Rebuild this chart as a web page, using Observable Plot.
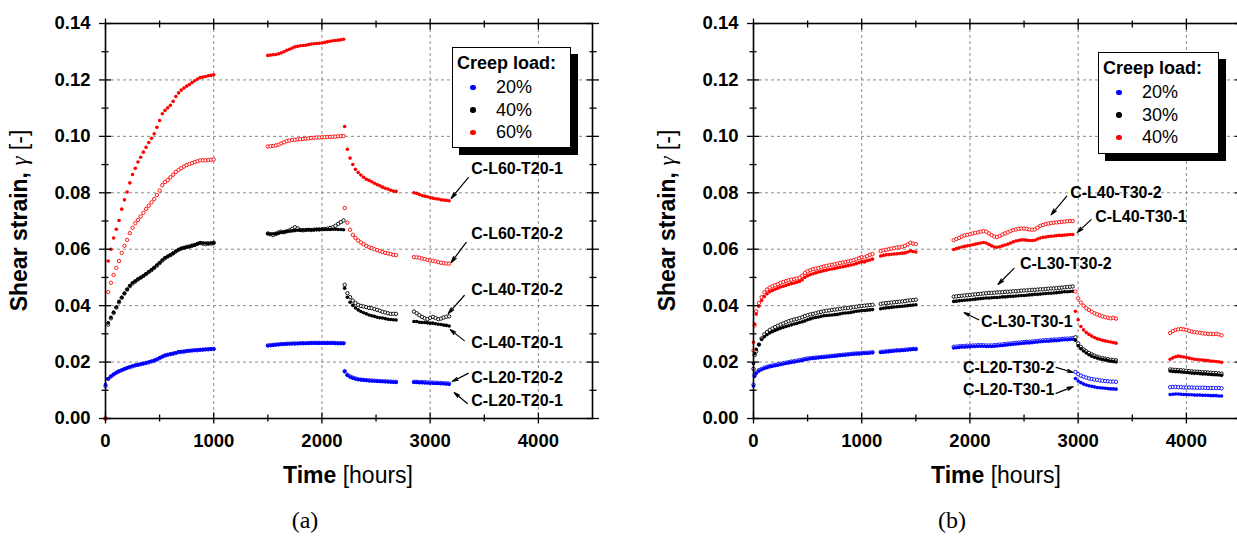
<!DOCTYPE html>
<html>
<head>
<meta charset="utf-8">
<script src="https://cdn.jsdelivr.net/npm/d3@7"></script>
<script src="https://cdn.jsdelivr.net/npm/@observablehq/plot@0.6"></script>
<style>
  html, body { margin: 0; padding: 0; background: #fff; overflow: hidden; }
  #page { position: relative; width: 1237px; height: 536px; overflow: hidden; background: #fff; }
  .panel { position: absolute; top: 0; width: 618px; height: 536px; }
  .legend { position: absolute; box-sizing: border-box; background: #fff; border: 1.3px solid #000;
            box-shadow: 7px 7px 0 #000; font-family: "Liberation Sans", Arial, sans-serif; color: #000; }
  .legend .ttl { position: absolute; left: 4px; top: 5px; font-weight: bold; font-size: 18px; line-height: 20px; white-space: nowrap; }
  .legend .itm { position: absolute; left: 43px; font-size: 18px; line-height: 20px; white-space: nowrap; }
  .legend .dot { position: absolute; left: 17px; width: 5.5px; height: 5.5px; border-radius: 50%; }
  .caption { position: absolute; width: 100px; text-align: center; font-family: "Liberation Serif", "Times New Roman", serif;
             font-size: 24px; line-height: 28px; color: #000; }
  #warn { position: absolute; left: 0; top: 0; color: red; font: 10px monospace; }
</style>
</head>
<body>
<div id="page">
  <div class="panel" id="pa" style="left:0px"></div>
  <div class="panel" id="pb" style="left:648px"></div>
  <div id="warn"></div>
</div>
<script>
// ---------------- axis ticks ----------------
const xMajor = [0, 1000, 2000, 3000, 4000];
const xMinor = [500, 1500, 2500, 3500];
const yMajor = [0, 0.02, 0.04, 0.06, 0.08, 0.10, 0.12, 0.14];
const yMinor = [0.01, 0.03, 0.05, 0.07, 0.09, 0.11, 0.13];

// ---------------- panel (a): measurement times [hours] ----------------
const tA1 = [0,25,50,75,100,125,150,175,200,225,250,275,300,325,350,375,400,425,450,475,500,525,550,575,600,625,650,675,700,725,750,775,800,825,850,875,900,925,950,975,1000];
const tA2 = [1500,1525,1550,1575,1600,1625,1650,1675,1700,1725,1750,1775,1800,1825,1850,1875,1900,1925,1950,1975,2000,2025,2050,2075,2100,2125,2150,2175,2200];
const tA3 = [2210,2235,2260,2285,2310,2335,2360,2385,2410,2435,2460,2485,2510,2535,2560,2585,2610,2635,2660,2685];
const tA4 = [2850,2875,2900,2925,2950,2975,3000,3025,3050,3075,3100,3125,3150,3175];

// panel (a) shear strain series
const a_L60_T20_1 = [
  0,0.0558,0.0600,0.0640,0.0671,0.0702,0.0742,0.0775,0.0803,0.0835, 0.0865,0.0887,0.0909,0.0926,0.0944,0.0961,0.0978,0.0993,0.1009,0.1032,
  0.1056,0.1080,0.1092,0.1101,0.1110,0.1124,0.1141,0.1154,0.1164,0.1171, 0.1178,0.1184,0.1191,0.1197,0.1203,0.1208,0.1210,0.1212,0.1215,0.1216, 0.1218,
  0.1287,0.1288,0.1289,0.1290,0.1293,0.1296,0.1300,0.1305,0.1309,0.1313, 0.1317,0.1319,0.1321,0.1322,0.1323,0.1325,0.1327,0.1328,0.1329,0.1330,
  0.1331,0.1333,0.1335,0.1337,0.1339,0.1340,0.1341,0.1342,0.1344,
  0.1035,0.0954,0.0923,0.0900,0.0883,0.0872,0.0863,0.0855,0.0848,0.0844, 0.0839,0.0834,0.0829,0.0825,0.0820,0.0816,0.0813,0.0809,0.0806,0.0805,
  0.0800,0.0798,0.0794,0.0790,0.0788,0.0786,0.0783,0.0781,0.0779,0.0778, 0.0775,0.0774,0.0773,0.0772
];
const a_L60_T20_2 = [
  0,0.0448,0.0481,0.0509,0.0534,0.0558,0.0587,0.0612,0.0633,0.0657, 0.0676,0.0692,0.0704,0.0716,0.0729,0.0743,0.0754,0.0766,0.0778,0.0792,
  0.0808,0.0827,0.0838,0.0845,0.0855,0.0864,0.0874,0.0881,0.0887,0.0893, 0.0898,0.0902,0.0905,0.0909,0.0912,0.0915,0.0915,0.0915,0.0916,0.0917, 0.0918,
  0.0964,0.0965,0.0966,0.0968,0.0971,0.0975,0.0979,0.0983,0.0985,0.0987, 0.0988,0.0989,0.0990,0.0991,0.0992,0.0993,0.0994,0.0995,0.0996,0.0996,
  0.0997,0.0997,0.0998,0.0998,0.0999,0.0999,0.1000,0.1001,0.1001,
  0.0746,0.0694,0.0669,0.0651,0.0640,0.0631,0.0624,0.0618,0.0612,0.0607, 0.0604,0.0600,0.0597,0.0593,0.0590,0.0587,0.0585,0.0583,0.0580,0.0579,
  0.0572,0.0571,0.0570,0.0567,0.0565,0.0562,0.0560,0.0559,0.0557,0.0554, 0.0552,0.0551,0.0549,0.0549
];
const a_L40_T20_1 = [
  0,0.0339,0.0359,0.0377,0.0395,0.0415,0.0430,0.0444,0.0458,0.0471, 0.0481,0.0487,0.0494,0.0500,0.0506,0.0513,0.0520,0.0527,0.0535,0.0544,
  0.0552,0.0562,0.0570,0.0575,0.0580,0.0586,0.0593,0.0599,0.0603,0.0605, 0.0607,0.0609,0.0612,0.0616,0.0619,0.0623,0.0622,0.0622,0.0619,0.0622, 0.0622,
  0.0655,0.0654,0.0655,0.0656,0.0657,0.0659,0.0661,0.0663,0.0664,0.0665, 0.0666,0.0667,0.0667,0.0668,0.0668,0.0669,0.0669,0.0669,0.0670,0.0670,
  0.0670,0.0670,0.0670,0.0670,0.0671,0.0671,0.0670,0.0670,0.0669,
  0.0462,0.0430,0.0412,0.0401,0.0392,0.0385,0.0379,0.0375,0.0371,0.0367, 0.0364,0.0362,0.0359,0.0357,0.0356,0.0354,0.0352,0.0351,0.0350,0.0349,
  0.0344,0.0344,0.0341,0.0340,0.0340,0.0339,0.0338,0.0338,0.0336,0.0334, 0.0333,0.0331,0.0330,0.0328
];
const a_L40_T20_2 = [
  0,0.0333,0.0355,0.0374,0.0393,0.0412,0.0428,0.0443,0.0457,0.0469, 0.0479,0.0486,0.0493,0.0499,0.0505,0.0512,0.0519,0.0526,0.0534,0.0542,
  0.0551,0.0560,0.0568,0.0574,0.0579,0.0585,0.0592,0.0598,0.0602,0.0605, 0.0608,0.0610,0.0613,0.0615,0.0619,0.0622,0.0620,0.0618,0.0621,0.0620, 0.0623,
  0.0656,0.0653,0.0650,0.0654,0.0660,0.0662,0.0660,0.0664,0.0667,0.0672, 0.0678,0.0674,0.0668,0.0667,0.0668,0.0669,0.0668,0.0669,0.0670,0.0670,
  0.0671,0.0672,0.0673,0.0675,0.0678,0.0683,0.0690,0.0696,0.0702,
  0.0474,0.0444,0.0430,0.0418,0.0409,0.0403,0.0399,0.0397,0.0395,0.0392, 0.0391,0.0388,0.0385,0.0382,0.0378,0.0376,0.0373,0.0371,0.0371,0.0371,
  0.0379,0.0373,0.0366,0.0360,0.0355,0.0352,0.0357,0.0360,0.0356,0.0352, 0.0354,0.0358,0.0361,0.0362
];
const a_L20_T20_1 = [
  0.0120,0.0142,0.0150,0.0157,0.0163,0.0168,0.0172,0.0176,0.0180,0.0183, 0.0186,0.0189,0.0191,0.0193,0.0195,0.0197,0.0200,0.0203,0.0206,0.0210,
  0.0215,0.0220,0.0224,0.0226,0.0228,0.0230,0.0233,0.0236,0.0237,0.0238, 0.0239,0.0240,0.0241,0.0242,0.0243,0.0244,0.0244,0.0245,0.0246,0.0246, 0.0247,
  0.0258,0.0259,0.0260,0.0261,0.0262,0.0263,0.0264,0.0264,0.0265,0.0265, 0.0265,0.0266,0.0266,0.0266,0.0266,0.0267,0.0267,0.0267,0.0267,0.0267,
  0.0267,0.0267,0.0267,0.0267,0.0267,0.0267,0.0266,0.0266,0.0266,
  0.0166,0.0153,0.0147,0.0143,0.0140,0.0138,0.0137,0.0136,0.0135,0.0134, 0.0133,0.0133,0.0132,0.0131,0.0131,0.0130,0.0130,0.0129,0.0129,0.0128,
  0.0128,0.0128,0.0127,0.0127,0.0126,0.0126,0.0125,0.0125,0.0124,0.0124, 0.0123,0.0123,0.0122,0.0121
];
const a_L20_T20_2 = [
  0.0115,0.0140,0.0149,0.0156,0.0162,0.0167,0.0171,0.0175,0.0179,0.0182, 0.0185,0.0188,0.0190,0.0192,0.0194,0.0197,0.0199,0.0202,0.0205,0.0209,
  0.0214,0.0219,0.0223,0.0226,0.0228,0.0230,0.0232,0.0235,0.0236,0.0237, 0.0239,0.0240,0.0241,0.0242,0.0242,0.0243,0.0244,0.0245,0.0245,0.0246, 0.0246,
  0.0259,0.0260,0.0261,0.0262,0.0263,0.0264,0.0264,0.0265,0.0265,0.0266, 0.0266,0.0266,0.0267,0.0267,0.0267,0.0267,0.0268,0.0268,0.0268,0.0268,
  0.0268,0.0268,0.0268,0.0268,0.0268,0.0267,0.0267,0.0267,0.0267,
  0.0168,0.0155,0.0149,0.0145,0.0142,0.0139,0.0138,0.0137,0.0136,0.0135, 0.0135,0.0134,0.0133,0.0133,0.0132,0.0132,0.0131,0.0131,0.0130,0.0130,
  0.0130,0.0130,0.0129,0.0129,0.0129,0.0128,0.0128,0.0127,0.0127,0.0126, 0.0126,0.0125,0.0125,0.0124
];

// ---------------- panel (b): measurement times [hours] ----------------
const tB1 = [0,10,25,50,75,100,125,150,175,200,225,250,275,300,325,350,375,400,425,450,475,500,525,550,575,600,625,650,675,700,725,750,775,800,825,850,875,900,925,950,975,1000,1025,1050,1075,1100];
const tB2 = [1175,1200,1225,1250,1275,1300,1325,1350,1375,1400,1425,1450,1475,1500];
const tB3 = [1850,1875,1900,1925,1950,1975,2000,2025,2050,2075,2100,2125,2150,2175,2200,2225,2250,2275,2300,2325,2350,2375,2400,2425,2450,2475,2500,2525,2550,2575,2600,2625,2650,2675,2700,2725,2750,2775,2800,2825,2850,2875,2900,2925,2950];
const tB4 = [2975,3000,3025,3050,3075,3100,3125,3150,3175,3200,3225,3250,3275,3300,3325,3350];
const tB5 = [3850,3875,3900,3925,3950,3975,4000,4025,4050,4075,4100,4125,4150,4175,4200,4225,4250,4275,4300,4325];

const b_L40_T30_2 = [
  0.0241,0.0330,0.0380,0.0409,0.0430,0.0447,0.0457,0.0464,0.0469,0.0472, 0.0476,0.0481,0.0484,0.0487,0.0490,0.0492,0.0494,0.0496,0.0499,0.0506,
  0.0516,0.0522,0.0526,0.0529,0.0531,0.0533,0.0536,0.0539,0.0541,0.0543, 0.0545,0.0547,0.0549,0.0551,0.0553,0.0555,0.0557,0.0559,0.0561,0.0564,
  0.0568,0.0572,0.0570,0.0575,0.0580,0.0583,
  0.0593,0.0596,0.0598,0.0600,0.0602,0.0604,0.0606,0.0607,0.0609,0.0612, 0.0617,0.0623,0.0620,0.0618,
  0.0632,0.0636,0.0640,0.0645,0.0649,0.0651,0.0653,0.0656,0.0658,0.0660, 0.0662,0.0664,0.0662,0.0656,0.0650,0.0645,0.0643,0.0647,0.0652,0.0656,
  0.0660,0.0664,0.0668,0.0670,0.0672,0.0673,0.0673,0.0672,0.0670,0.0669, 0.0670,0.0676,0.0683,0.0686,0.0689,0.0691,0.0693,0.0694,0.0695,0.0696,
  0.0697,0.0698,0.0699,0.0700,0.0700,
  0.0450,0.0426,0.0411,0.0400,0.0391,0.0385,0.0378,0.0373,0.0369,0.0365, 0.0362,0.0359,0.0357,0.0355,0.0357,0.0354,
  0.0303,0.0310,0.0314,0.0316,0.0317,0.0316,0.0314,0.0311,0.0308,0.0306, 0.0305,0.0304,0.0302,0.0301,0.0300,0.0300,0.0299,0.0300,0.0298,0.0295
];
const b_L40_T30_1 = [
  0.0270,0.0335,0.0370,0.0398,0.0418,0.0432,0.0442,0.0449,0.0454,0.0458, 0.0462,0.0466,0.0469,0.0472,0.0475,0.0478,0.0480,0.0483,0.0486,0.0492,
  0.0500,0.0506,0.0510,0.0513,0.0516,0.0519,0.0521,0.0524,0.0526,0.0528, 0.0530,0.0532,0.0534,0.0536,0.0538,0.0540,0.0542,0.0544,0.0546,0.0549,
  0.0552,0.0556,0.0555,0.0559,0.0562,0.0565,
  0.0576,0.0578,0.0580,0.0581,0.0582,0.0583,0.0584,0.0585,0.0586,0.0587, 0.0590,0.0594,0.0592,0.0590,
  0.0599,0.0602,0.0605,0.0608,0.0610,0.0612,0.0614,0.0616,0.0618,0.0620, 0.0622,0.0624,0.0622,0.0617,0.0612,0.0608,0.0607,0.0609,0.0612,0.0615,
  0.0618,0.0622,0.0626,0.0629,0.0631,0.0633,0.0633,0.0632,0.0631,0.0631, 0.0632,0.0636,0.0640,0.0642,0.0643,0.0645,0.0646,0.0647,0.0648,0.0649,
  0.0649,0.0650,0.0651,0.0652,0.0652,
  0.0380,0.0350,0.0326,0.0314,0.0305,0.0298,0.0292,0.0287,0.0283,0.0280, 0.0277,0.0275,0.0273,0.0271,0.0269,0.0267,
  0.0210,0.0215,0.0219,0.0221,0.0220,0.0218,0.0216,0.0214,0.0212,0.0210, 0.0209,0.0208,0.0207,0.0206,0.0205,0.0204,0.0203,0.0202,0.0201,0.0199
];
const b_L30_T30_2 = [
  0.0176,0.0225,0.0238,0.0262,0.0284,0.0298,0.0306,0.0314,0.0319,0.0324, 0.0329,0.0333,0.0337,0.0341,0.0345,0.0348,0.0351,0.0353,0.0356,0.0359,
  0.0363,0.0366,0.0369,0.0371,0.0373,0.0376,0.0378,0.0380,0.0382,0.0383, 0.0385,0.0386,0.0387,0.0389,0.0390,0.0391,0.0392,0.0393,0.0395,0.0396,
  0.0398,0.0399,0.0400,0.0401,0.0402,0.0403,
  0.0406,0.0408,0.0409,0.0410,0.0411,0.0412,0.0413,0.0414,0.0415,0.0416, 0.0418,0.0419,0.0420,0.0421,
  0.0432,0.0433,0.0434,0.0435,0.0436,0.0437,0.0438,0.0439,0.0440,0.0441, 0.0442,0.0443,0.0444,0.0445,0.0445,0.0446,0.0447,0.0447,0.0448,0.0449,
  0.0449,0.0450,0.0451,0.0451,0.0452,0.0453,0.0454,0.0454,0.0455,0.0456, 0.0456,0.0457,0.0458,0.0458,0.0459,0.0460,0.0461,0.0461,0.0462,0.0463,
  0.0464,0.0465,0.0466,0.0467,0.0468,
  0.0288,0.0266,0.0254,0.0245,0.0238,0.0232,0.0227,0.0223,0.0219,0.0216, 0.0214,0.0212,0.0210,0.0208,0.0207,0.0206,
  0.0174,0.0173,0.0172,0.0172,0.0171,0.0170,0.0169,0.0168,0.0167,0.0166, 0.0166,0.0165,0.0164,0.0164,0.0163,0.0162,0.0161,0.0161,0.0160,0.0159
];
const b_L30_T30_1 = [
  0.0195,0.0230,0.0245,0.0262,0.0280,0.0290,0.0297,0.0303,0.0308,0.0312, 0.0316,0.0320,0.0323,0.0326,0.0329,0.0332,0.0335,0.0337,0.0340,0.0343,
  0.0346,0.0350,0.0353,0.0356,0.0358,0.0360,0.0362,0.0364,0.0365,0.0366, 0.0367,0.0368,0.0369,0.0371,0.0373,0.0374,0.0375,0.0376,0.0378,0.0380,
  0.0381,0.0383,0.0383,0.0384,0.0385,0.0386,
  0.0389,0.0391,0.0392,0.0393,0.0394,0.0395,0.0396,0.0397,0.0398,0.0399, 0.0400,0.0401,0.0402,0.0403,
  0.0415,0.0416,0.0417,0.0418,0.0419,0.0420,0.0421,0.0422,0.0423,0.0424, 0.0425,0.0426,0.0427,0.0427,0.0428,0.0429,0.0429,0.0430,0.0431,0.0431,
  0.0432,0.0433,0.0433,0.0434,0.0435,0.0436,0.0436,0.0437,0.0438,0.0439, 0.0440,0.0440,0.0441,0.0442,0.0443,0.0444,0.0444,0.0445,0.0446,0.0447,
  0.0448,0.0449,0.0449,0.0450,0.0451,
  0.0277,0.0258,0.0247,0.0239,0.0232,0.0226,0.0221,0.0217,0.0214,0.0211, 0.0209,0.0207,0.0205,0.0203,0.0202,0.0200,
  0.0168,0.0167,0.0166,0.0166,0.0165,0.0164,0.0163,0.0162,0.0161,0.0160, 0.0160,0.0159,0.0158,0.0158,0.0157,0.0156,0.0155,0.0155,0.0154,0.0153
];
const b_L20_T30_2 = [
  0.0120,0.0153,0.0163,0.0171,0.0176,0.0180,0.0183,0.0186,0.0188,0.0190, 0.0192,0.0194,0.0196,0.0198,0.0200,0.0202,0.0203,0.0205,0.0207,0.0209,
  0.0211,0.0213,0.0214,0.0215,0.0216,0.0217,0.0218,0.0219,0.0220,0.0221, 0.0222,0.0223,0.0224,0.0225,0.0226,0.0227,0.0228,0.0229,0.0230,0.0231,
  0.0231,0.0232,0.0233,0.0233,0.0234,0.0235,
  0.0236,0.0237,0.0238,0.0239,0.0240,0.0241,0.0242,0.0242,0.0243,0.0244, 0.0245,0.0246,0.0247,0.0247,
  0.0254,0.0255,0.0256,0.0257,0.0257,0.0258,0.0258,0.0259,0.0259,0.0260, 0.0260,0.0260,0.0259,0.0259,0.0259,0.0260,0.0261,0.0262,0.0263,0.0264,
  0.0265,0.0266,0.0267,0.0268,0.0269,0.0270,0.0271,0.0272,0.0272,0.0273, 0.0274,0.0275,0.0276,0.0277,0.0278,0.0278,0.0279,0.0280,0.0280,0.0281,
  0.0282,0.0283,0.0283,0.0284,0.0285,
  0.0165,0.0157,0.0152,0.0148,0.0145,0.0142,0.0140,0.0138,0.0137,0.0135, 0.0134,0.0133,0.0132,0.0131,0.0131,0.0130,
  0.0111,0.0112,0.0112,0.0111,0.0111,0.0110,0.0110,0.0110,0.0110,0.0109, 0.0109,0.0109,0.0109,0.0109,0.0108,0.0108,0.0108,0.0108,0.0108,0.0107
];
const b_L20_T30_1 = [
  0.0115,0.0150,0.0160,0.0168,0.0173,0.0177,0.0180,0.0183,0.0185,0.0187, 0.0189,0.0191,0.0193,0.0195,0.0197,0.0199,0.0200,0.0202,0.0204,0.0206,
  0.0208,0.0210,0.0212,0.0213,0.0214,0.0215,0.0216,0.0217,0.0218,0.0219, 0.0220,0.0221,0.0222,0.0223,0.0224,0.0225,0.0226,0.0227,0.0228,0.0229,
  0.0229,0.0230,0.0231,0.0231,0.0232,0.0233,
  0.0234,0.0235,0.0236,0.0237,0.0238,0.0239,0.0240,0.0240,0.0241,0.0242, 0.0243,0.0244,0.0245,0.0245,
  0.0250,0.0251,0.0252,0.0253,0.0253,0.0254,0.0254,0.0255,0.0255,0.0256, 0.0256,0.0256,0.0255,0.0255,0.0255,0.0256,0.0257,0.0258,0.0259,0.0260,
  0.0261,0.0262,0.0263,0.0264,0.0265,0.0266,0.0267,0.0268,0.0268,0.0269, 0.0270,0.0271,0.0272,0.0273,0.0274,0.0274,0.0275,0.0276,0.0276,0.0277,
  0.0278,0.0279,0.0279,0.0280,0.0281,
  0.0142,0.0133,0.0127,0.0122,0.0119,0.0116,0.0114,0.0112,0.0110,0.0109, 0.0108,0.0107,0.0106,0.0105,0.0105,0.0104,
  0.0085,0.0086,0.0087,0.0087,0.0086,0.0085,0.0085,0.0084,0.0084,0.0083, 0.0083,0.0083,0.0082,0.0082,0.0082,0.0081,0.0081,0.0081,0.0080,0.0080
];

// ---------------- legends & annotations ----------------
const legendTitle = "Creep load:";
const legendA = ["20%", "40%", "60%"];
const legendB = ["20%", "30%", "40%"];

const annA = [
  {label: "C-L60-T20-1", tx: 3380, ty: 0.0883, x1: 3352, y1: 0.0854, x2: 3194, y2: 0.0780},
  {label: "C-L60-T20-2", tx: 3380, ty: 0.0656, x1: 3333, y1: 0.0624, x2: 3194, y2: 0.0553},
  {label: "C-L40-T20-2", tx: 3380, ty: 0.0457, x1: 3315, y1: 0.0436, x2: 3167, y2: 0.0372},
  {label: "C-L40-T20-1", tx: 3380, ty: 0.0269, x1: 3315, y1: 0.0276, x2: 3185, y2: 0.0315},
  {label: "C-L20-T20-2", tx: 3380, ty: 0.0145, x1: 3352, y1: 0.0160, x2: 3204, y2: 0.0131},
  {label: "C-L20-T20-1", tx: 3380, ty: 0.0064, x1: 3343, y1: 0.0053, x2: 3222, y2: 0.0092}
];
const annB = [
  {label: "C-L40-T30-2", tx: 2926, ty: 0.0798, x1: 2895, y1: 0.0788, x2: 2750, y2: 0.0722},
  {label: "C-L40-T30-1", tx: 3157, ty: 0.0713, x1: 3120, y1: 0.0705, x2: 2991, y2: 0.0659},
  {label: "C-L30-T30-2", tx: 2463, ty: 0.0549, x1: 2407, y1: 0.0532, x2: 2259, y2: 0.0475},
  {label: "C-L30-T30-1", tx: 2102, ty: 0.0344, x1: 2081, y1: 0.0350, x2: 1947, y2: 0.0375},
  {label: "C-L20-T30-2", tx: 1935, ty: 0.0181, x1: 2796, y1: 0.0181, x2: 2954, y2: 0.0163},
  {label: "C-L20-T30-1", tx: 1935, ty: 0.0103, x1: 2796, y1: 0.0089, x2: 2954, y2: 0.0113}
];

// ---------------- drawing ----------------
const FONT = "'Liberation Sans', Arial, Helvetica, sans-serif";
const warnings = [];

function drawPanel(el, cfg) {
  const rows = [];
  cfg.series.forEach(s => {
    if (s.values.length !== cfg.times.length) warnings.push(`${s.name}: ${s.values.length} vs ${cfg.times.length}`);
    s.values.forEach((v, i) => { if (i < cfg.times.length) rows.push({t: cfg.times[i], g: v, load: s.load, open: s.open}); });
  });
  const grid = {stroke: "#8a8a8a", strokeOpacity: 1, strokeWidth: 1, strokeDasharray: "3,3"};
  const marks = [
    Plot.gridX({ticks: xMajor.slice(1), ...grid}),
    Plot.gridY({ticks: yMajor.slice(1, -1), ...grid})
  ];
  for (const load of cfg.order) {
    const c = cfg.colors[load];
    marks.push(Plot.dot(rows.filter(d => d.load === load && d.open), {x: "t", y: "g", r: 1.7, stroke: c, strokeWidth: 0.9, fill: "white"}));
    marks.push(Plot.dot(rows.filter(d => d.load === load && !d.open), {x: "t", y: "g", r: 1.8, fill: c, stroke: "none"}));
  }
  const tk = {fill: "none", stroke: "black", strokeWidth: 1.3};
  marks.push(
    Plot.arrow(cfg.ann, {x1: "x1", y1: "y1", x2: "x2", y2: "y2", stroke: "black", strokeWidth: 1.2, headLength: 8, headAngle: 28}),
    Plot.text(cfg.ann, {x: "tx", y: "ty", text: "label", textAnchor: "start", fontSize: 16, fontWeight: "bold", fill: "black"}),
    Plot.frame({stroke: "black", strokeWidth: 1.6}),
    Plot.axisX({anchor: "bottom", ticks: xMajor, tickSize: 11, dy: -5.5, ...tk}),
    Plot.axisX({anchor: "bottom", ticks: xMinor, tickSize: 7, dy: -3.5, ...tk}),
    Plot.axisX({anchor: "top", ticks: xMajor, tickSize: 11, dy: 5.5, ...tk}),
    Plot.axisX({anchor: "top", ticks: xMinor, tickSize: 7, dy: 3.5, ...tk}),
    Plot.axisY({anchor: "left", ticks: yMajor, tickSize: 12, dx: 6, ...tk}),
    Plot.axisY({anchor: "left", ticks: yMinor, tickSize: 7, dx: 3.5, ...tk}),
    Plot.axisY({anchor: "right", ticks: yMajor, tickSize: 12, dx: -6, ...tk}),
    Plot.axisY({anchor: "right", ticks: yMinor, tickSize: 7, dx: -3.5, ...tk}),
    Plot.axisX({anchor: "bottom", ticks: xMajor, tickSize: 0, tickPadding: 15, label: null, fontSize: 18.5, fontWeight: "bold", fill: "black", tickFormat: d => String(d)}),
    Plot.axisY({anchor: "left", ticks: yMajor, tickSize: 0, tickPadding: 15, label: null, fontSize: 18.5, fontWeight: "bold", fill: "black", tickFormat: d3.format(".2f")})
  );
  const svg = Plot.plot({
    width: 618, height: 490,
    marginLeft: 105, marginRight: 26, marginTop: 23, marginBottom: 72,
    x: {domain: [0, 4500]},
    y: {domain: [0, 0.14]},
    style: {fontFamily: FONT, background: "transparent", overflow: "visible", color: "black"},
    marks
  });
  const s = d3.select(svg);
  const yl = s.append("text").attr("transform", "translate(27,220.5) rotate(-90)")
    .attr("text-anchor", "middle").attr("font-size", 23).attr("font-family", FONT).attr("fill", "black")
    .style("white-space", "pre");
  yl.append("tspan").attr("font-weight", "bold").text("Shear strain, ");
  yl.append("tspan").attr("font-family", "'Liberation Serif', 'Times New Roman', serif").attr("font-style", "italic").text("\u03B3");
  yl.append("tspan").text(" [-]");
  const xl = s.append("text").attr("x", 348).attr("y", 483)
    .attr("text-anchor", "middle").attr("font-size", 23).attr("font-family", FONT).attr("fill", "black")
    .style("white-space", "pre");
  xl.append("tspan").attr("font-weight", "bold").text("Time");
  xl.append("tspan").text(" [hours]");
  el.appendChild(svg);

  // legend box
  const lg = document.createElement("div");
  lg.className = "legend";
  Object.assign(lg.style, {left: cfg.legendPos.left + "px", top: cfg.legendPos.top + "px",
    width: cfg.legendPos.w + "px", height: cfg.legendPos.h + "px"});
  let html = `<div class="ttl">${legendTitle}</div>`;
  const rowsY = [40, 62.5, 85];
  cfg.legend.forEach((lab, i) => {
    const c = cfg.colors[cfg.order[i]];
    html += `<div class="dot" style="top:${rowsY[i] - 3.5}px;background:${c}"></div>`;
    html += `<div class="itm" style="top:${rowsY[i] - 11}px">${lab}</div>`;
  });
  lg.innerHTML = html;
  el.appendChild(lg);

  const cap = document.createElement("div");
  cap.className = "caption";
  cap.style.left = (cfg.capX - 50) + "px";
  cap.style.top = (520 - 14) + "px";
  cap.textContent = cfg.caption;
  el.appendChild(cap);
}

drawPanel(document.getElementById("pa"), {
  times: [...tA1, ...tA2, ...tA3, ...tA4],
  series: [
    {name: "C-L20-T20-2", values: a_L20_T20_2, load: "20", open: true},
    {name: "C-L20-T20-1", values: a_L20_T20_1, load: "20", open: false},
    {name: "C-L40-T20-2", values: a_L40_T20_2, load: "40", open: true},
    {name: "C-L40-T20-1", values: a_L40_T20_1, load: "40", open: false},
    {name: "C-L60-T20-2", values: a_L60_T20_2, load: "60", open: true},
    {name: "C-L60-T20-1", values: a_L60_T20_1, load: "60", open: false}
  ],
  order: ["20", "40", "60"],
  colors: {"20": "#0000ff", "40": "#000000", "60": "#ff0000"},
  legend: legendA,
  ann: annA,
  legendPos: {left: 452, top: 47, w: 119, h: 101},
  caption: "(a)", capX: 305
});

drawPanel(document.getElementById("pb"), {
  times: [...tB1, ...tB2, ...tB3, ...tB4, ...tB5],
  series: [
    {name: "C-L20-T30-2", values: b_L20_T30_2, load: "20", open: true},
    {name: "C-L20-T30-1", values: b_L20_T30_1, load: "20", open: false},
    {name: "C-L30-T30-2", values: b_L30_T30_2, load: "30", open: true},
    {name: "C-L30-T30-1", values: b_L30_T30_1, load: "30", open: false},
    {name: "C-L40-T30-2", values: b_L40_T30_2, load: "40", open: true},
    {name: "C-L40-T30-1", values: b_L40_T30_1, load: "40", open: false}
  ],
  order: ["20", "30", "40"],
  colors: {"20": "#0000ff", "30": "#000000", "40": "#ff0000"},
  legend: legendB,
  ann: annB,
  legendPos: {left: 450, top: 52, w: 121, h: 102},
  caption: "(b)", capX: 304
});

if (warnings.length) document.getElementById("warn").textContent = warnings.join(" | ");
</script>
</body>
</html>
